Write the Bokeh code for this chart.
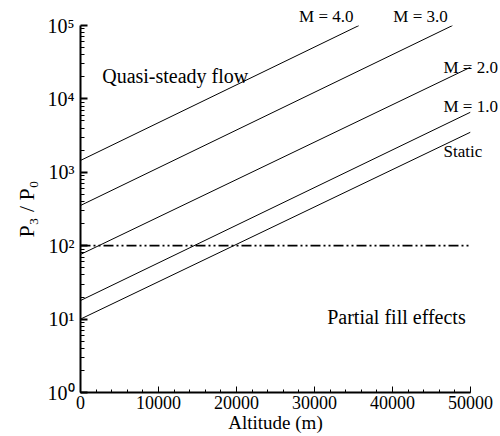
from bokeh.plotting import figure
from bokeh.models import (Range1d, Label, FixedTicker, SingleIntervalTicker,
                          CustomJSTickFormatter, LinearAxis, LogAxis)
from bokeh.embed import file_html
from bokeh.resources import INLINE

# ---- data ----
altitude_full = [0, 50000]
static_ratio = [10, 3520]
mach1_ratio = [17.9, 6590]
mach2_ratio = [76, 27000]
mach3_altitude = [0, 47700]
mach3_ratio = [353, 100000]
mach4_altitude = [0, 35700]
mach4_ratio = [1450, 100000]
threshold_ratio = [100, 100]

x_tick_interval = 10000
y_tick_values = [1, 10, 100, 1000, 10000, 100000]
y_tick_labels = ["10⁰", "10¹", "10²", "10³", "10⁴", "10⁵"]

top_curve_labels = ["M = 4.0", "M = 3.0"]
right_curve_labels = ["M = 2.0", "M = 1.0", "Static"]

FONT = "Liberation Serif"

p = figure(width=500, height=436, output_backend="svg", toolbar_location=None,
           y_axis_type="log",
           x_range=Range1d(0, 50000), y_range=Range1d(1, 100000),
           min_border_left=80, min_border_right=30,
           min_border_top=25, min_border_bottom=44)
p.outline_line_color = None
p.xgrid.visible = False
p.ygrid.visible = False
p.background_fill_color = "white"
p.border_fill_color = "white"

# curves
for xs, ys in [(altitude_full, static_ratio), (altitude_full, mach1_ratio),
               (altitude_full, mach2_ratio), (mach3_altitude, mach3_ratio),
               (mach4_altitude, mach4_ratio)]:
    p.line(xs, ys, line_color="black", line_width=1)

p.line(altitude_full, threshold_ratio, line_color="black", line_width=1.8,
       line_dash="10 3 2 3 2 3")

# axes
xa = p.xaxis[0]
xa.ticker = SingleIntervalTicker(interval=x_tick_interval, num_minor_ticks=5)
ya = p.yaxis[0]
ya.ticker = FixedTicker(ticks=y_tick_values,
                        minor_ticks=[m * 10 ** e for e in range(5) for m in range(2, 10)])
ya.formatter = CustomJSTickFormatter(
    args=dict(vals=y_tick_values, labels=y_tick_labels),
    code="const i = vals.findIndex(v => Math.abs(Math.log10(v) - Math.log10(tick)) < 1e-6);"
         " return i >= 0 ? labels[i] : '';")

for ax in (xa, ya):
    ax.axis_line_width = 2
    ax.axis_line_color = "black"
    ax.major_tick_out = 0
    ax.minor_tick_out = 0
    ax.major_tick_line_color = "black"
    ax.minor_tick_line_color = "black"
    ax.major_label_text_font = FONT
    ax.major_label_text_color = "black"
    ax.axis_label_text_font = FONT
    ax.axis_label_text_font_style = "normal"
    ax.axis_label_text_color = "black"

xa.major_tick_in = 6
xa.minor_tick_in = 3
xa.major_tick_line_width = 1
xa.minor_tick_line_width = 1
xa.major_label_text_font_size = "18px"
xa.major_label_standoff = 3
xa.axis_label = "Altitude (m)"
xa.axis_label_text_font_size = "19px"
xa.axis_label_standoff = 0

ya.major_tick_in = 7
ya.minor_tick_in = 4
ya.major_tick_line_width = 2
ya.minor_tick_line_width = 1
ya.major_label_text_font_size = "20px"
ya.major_label_standoff = 6
ya.axis_label = "P₃ / P₀"
ya.axis_label_text_font_size = "22px"
ya.axis_label_standoff = 6

# curve names placed through extra axes so they can sit outside the frame
fmt_code = ("const i = vals.findIndex(v => Math.abs(v - tick) / Math.abs(v) < 1e-6);"
            " return i >= 0 ? labels[i] : '';")
top_x = [31510, 43590]
top_ax = LinearAxis(ticker=FixedTicker(ticks=top_x, minor_ticks=[]),
                    formatter=CustomJSTickFormatter(args=dict(vals=top_x, labels=top_curve_labels),
                                                    code=fmt_code))
right_y = [26540, 7950, 1920]
right_ax = LogAxis(ticker=FixedTicker(ticks=right_y, minor_ticks=[]),
                   formatter=CustomJSTickFormatter(args=dict(vals=right_y, labels=right_curve_labels),
                                                   code=fmt_code))
for ax in (top_ax, right_ax):
    ax.axis_line_color = None
    ax.major_tick_line_color = None
    ax.minor_tick_line_color = None
    ax.major_tick_in = 0
    ax.major_tick_out = 0
    ax.minor_tick_in = 0
    ax.minor_tick_out = 0
    ax.major_label_text_font = FONT
    ax.major_label_text_font_size = "17px"
    ax.major_label_text_color = "black"
top_ax.major_label_standoff = 0
right_ax.major_label_standoff = -27
p.add_layout(top_ax, "above")
p.add_layout(right_ax, "right")

# in-frame annotations
def lab(x, y, t, size):
    p.add_layout(Label(x=x, y=y, text=t, text_align="left",
                       text_baseline="alphabetic", text_font=FONT,
                       text_font_size=size, text_color="black"))

lab(2780, 20800, "Quasi-steady flow", "20px")
lab(31630, 10.6, "Partial fill effects", "20px")

open("out.html", "w").write(file_html(p, INLINE))
